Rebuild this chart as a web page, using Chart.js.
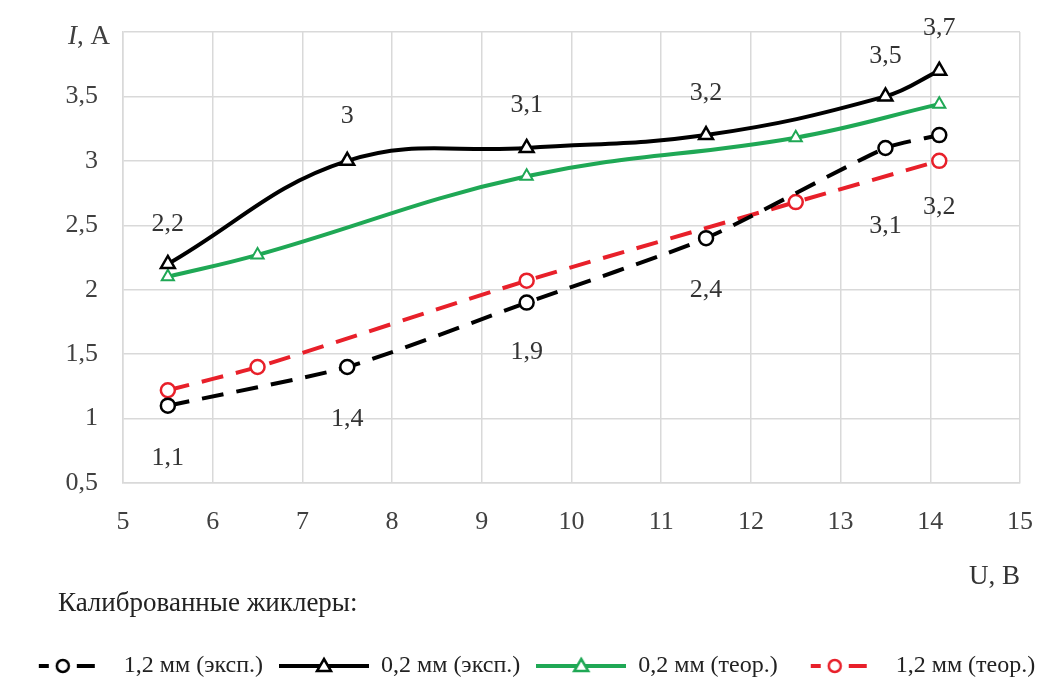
<!DOCTYPE html>
<html lang="ru">
<head>
<meta charset="UTF-8">
<title>I(U) – калиброванные жиклеры</title>
<script src="https://cdn.jsdelivr.net/npm/chart.js"></script>
<style>
  html, body { margin: 0; padding: 0; background: #fff; }
  #wrap { width: 1057px; height: 695px; position: relative; }
</style>
</head>
<body>
<div id="wrap"><canvas id="myChart"></canvas></div>
<script>
// напряжение U, B
const uExp = [5.5, 7.5, 9.5, 11.5, 13.5, 14.1];
const uTheor = [5.5, 6.5, 9.5, 12.5, 14.1];

// ток I, A
const iExp12 = [1.1, 1.4, 1.9, 2.4, 3.1, 3.2];
const iExp02 = [2.2, 3.0, 3.1, 3.2, 3.5, 3.7];
const iTheor02 = [2.1, 2.27, 2.88, 3.18, 3.44];
const iTheor12 = [1.22, 1.4, 2.07, 2.68, 3.0];

const seriesNames = ['1,2 мм (эксп.)', '0,2 мм (эксп.)', '0,2 мм (теор.)', '1,2 мм (теор.)'];
const legendTitle = 'Калиброванные жиклеры:';
const yTitle = ['I', ', A'];
const xTitle = 'U, B';

const serif = "'Liberation Serif', 'DejaVu Serif', serif";
const fmt = v => String(v).replace('.', ',');
const bottomPad = 7;

function toPoints(xs, ys) {
    return xs.map((x, i) => ({ x: x, y: ys[i] }));
}

// small picture of line + marker for the legend (all 90px wide)
function makeIcon(color, dashed, shape) {
    const c = document.createElement('canvas');
    c.width = 90; c.height = 20;
    const g = c.getContext('2d');
    g.strokeStyle = color;
    g.lineWidth = 4;
    g.beginPath();
    if (dashed) {
        g.moveTo(17, 10); g.lineTo(27, 10);
        g.moveTo(55, 10); g.lineTo(73, 10);
    } else {
        g.moveTo(0, 10); g.lineTo(90, 10);
    }
    g.stroke();
    g.fillStyle = '#fff';
    g.lineWidth = 2.5;
    g.beginPath();
    if (shape === 'circle') {
        g.arc(41, 10, 6, 0, Math.PI * 2);
    } else {
        g.moveTo(45, 3); g.lineTo(52, 15); g.lineTo(38, 15); g.closePath();
    }
    g.fill();
    g.stroke();
    return c;
}

const legendIcons = [
    makeIcon('#000', true, 'circle'),
    makeIcon('#000', false, 'triangle'),
    makeIcon('#1fa855', false, 'triangle'),
    makeIcon('#e8202a', true, 'circle')
];

// value labels, axis caption and legend caption
const extraText = {
    id: 'extraText',
    afterDraw(chart) {
        const ctx = chart.ctx;
        ctx.save();
        ctx.font = '26px ' + serif;
        ctx.fillStyle = '#333';
        ctx.textAlign = 'center';
        ctx.textBaseline = 'middle';
        chart.data.datasets.forEach((ds, di) => {
            if (!ds.labelOffsets) return;
            const meta = chart.getDatasetMeta(di);
            meta.data.forEach((pt, i) => {
                ctx.fillText(fmt(ds.data[i].y), pt.x, pt.y + ds.labelOffsets[i]);
            });
        });
        // y axis title at the top tick
        const yScale = chart.scales.y;
        const ty = yScale.getPixelForValue(4) + 5;
        ctx.textAlign = 'left';
        ctx.fillStyle = '#404040';
        ctx.font = 'italic 27px ' + serif;
        const w1 = ctx.measureText(yTitle[0]).width;
        ctx.font = '27px ' + serif;
        const w2 = ctx.measureText(yTitle[1]).width;
        const x0 = yScale.right - 13 - w1 - w2;
        ctx.font = 'italic 27px ' + serif;
        ctx.fillText(yTitle[0], x0, ty);
        ctx.font = '27px ' + serif;
        ctx.fillText(yTitle[1], x0 + w1, ty);
        // legend caption
        ctx.fillStyle = '#222';
        ctx.fillText(legendTitle, 58, 604);
        ctx.restore();
    }
};

const ctx = document.getElementById('myChart').getContext('2d');
const myChart = new Chart(ctx, {
    type: 'line',
    data: {
        datasets: [
            {
                label: seriesNames[0],
                data: toPoints(uExp, iExp12),
                borderColor: '#000',
                borderWidth: 4,
                borderDash: [22, 13],
                tension: 0.2,
                pointStyle: 'circle',
                pointRadius: 7,
                pointBorderWidth: 2.5,
                pointBackgroundColor: '#fff',
                pointBorderColor: '#000',
                labelOffsets: [52, 52, 50, 52, 78, 72]
            },
            {
                label: seriesNames[1],
                data: toPoints(uExp, iExp02),
                borderColor: '#000',
                borderWidth: 4,
                tension: 0.4,
                pointStyle: 'triangle',
                pointRadius: 8,
                pointBorderWidth: 2.5,
                pointBackgroundColor: '#fff',
                pointBorderColor: '#000',
                labelOffsets: [-40, -45, -43, -42, -40, -42]
            },
            {
                label: seriesNames[2],
                data: toPoints(uTheor, iTheor02),
                borderColor: '#1fa855',
                borderWidth: 4,
                tension: 0.4,
                pointStyle: 'triangle',
                pointRadius: 7,
                pointBorderWidth: 2,
                pointBackgroundColor: '#fff',
                pointBorderColor: '#1fa855'
            },
            {
                label: seriesNames[3],
                data: toPoints(uTheor, iTheor12),
                borderColor: '#e8202a',
                borderWidth: 4,
                borderDash: [22, 13],
                tension: 0.2,
                pointStyle: 'circle',
                pointRadius: 7,
                pointBorderWidth: 2.5,
                pointBackgroundColor: '#fff',
                pointBorderColor: '#e8202a'
            }
        ]
    },
    options: {
        responsive: true,
        maintainAspectRatio: false,
        animation: false,
        layout: { padding: { top: 32, right: 0, bottom: bottomPad, left: 0 } },
        plugins: {
            tooltip: { enabled: false },
            legend: {
                position: 'bottom',
                align: 'center',
                labels: {
                    usePointStyle: true,
                    pointStyleWidth: 90,
                    color: '#222',
                    padding: 16,
                    font: { family: serif, size: 24 },
                    generateLabels: chart => chart.data.datasets.map((ds, i) => ({
                        text: ds.label,
                        pointStyle: legendIcons[i],
                        fillStyle: ds.borderColor,
                        strokeStyle: ds.borderColor,
                        lineWidth: 0,
                        hidden: false,
                        datasetIndex: i,
                        fontColor: '#222'
                    }))
                }
            }
        },
        scales: {
            x: {
                type: 'linear',
                min: 5,
                max: 15,
                afterFit: s => {
                    s.height = s.chart.height - bottomPad - s.chart.legend.height - 483;
                },
                ticks: {
                    stepSize: 1,
                    padding: 24,
                    color: '#404040',
                    font: { family: serif, size: 26 }
                },
                grid: { color: '#d9d9d9', lineWidth: 1.5, drawTicks: false },
                border: { color: '#d9d9d9', width: 1.5 },
                title: {
                    display: true,
                    text: xTitle,
                    align: 'end',
                    color: '#333',
                    font: { family: serif, size: 27 },
                    padding: { top: 0, bottom: 45 }
                }
            },
            y: {
                type: 'linear',
                min: 0.5,
                max: 4,
                afterFit: s => { s.width = 123; },
                ticks: {
                    stepSize: 0.5,
                    padding: 0,
                    color: '#404040',
                    font: { family: serif, size: 26 },
                    callback: v => (v === 4 ? '' : fmt(v))
                },
                // invisible ticks give the gap between labels and the plot
                grid: { color: '#d9d9d9', lineWidth: 1.5, tickLength: 25, tickColor: 'rgba(0,0,0,0)' },
                border: { color: '#d9d9d9', width: 1.5 }
            },
            // empty right-hand strip so the plot ends at the same place as in the picture
            yRight: {
                type: 'linear',
                position: 'right',
                min: 0.5,
                max: 4,
                afterFit: s => { s.width = 36; },
                ticks: { display: false },
                grid: { display: false, drawTicks: false },
                border: { display: false }
            }
        }
    },
    plugins: [extraText]
});
</script>
</body>
</html>
